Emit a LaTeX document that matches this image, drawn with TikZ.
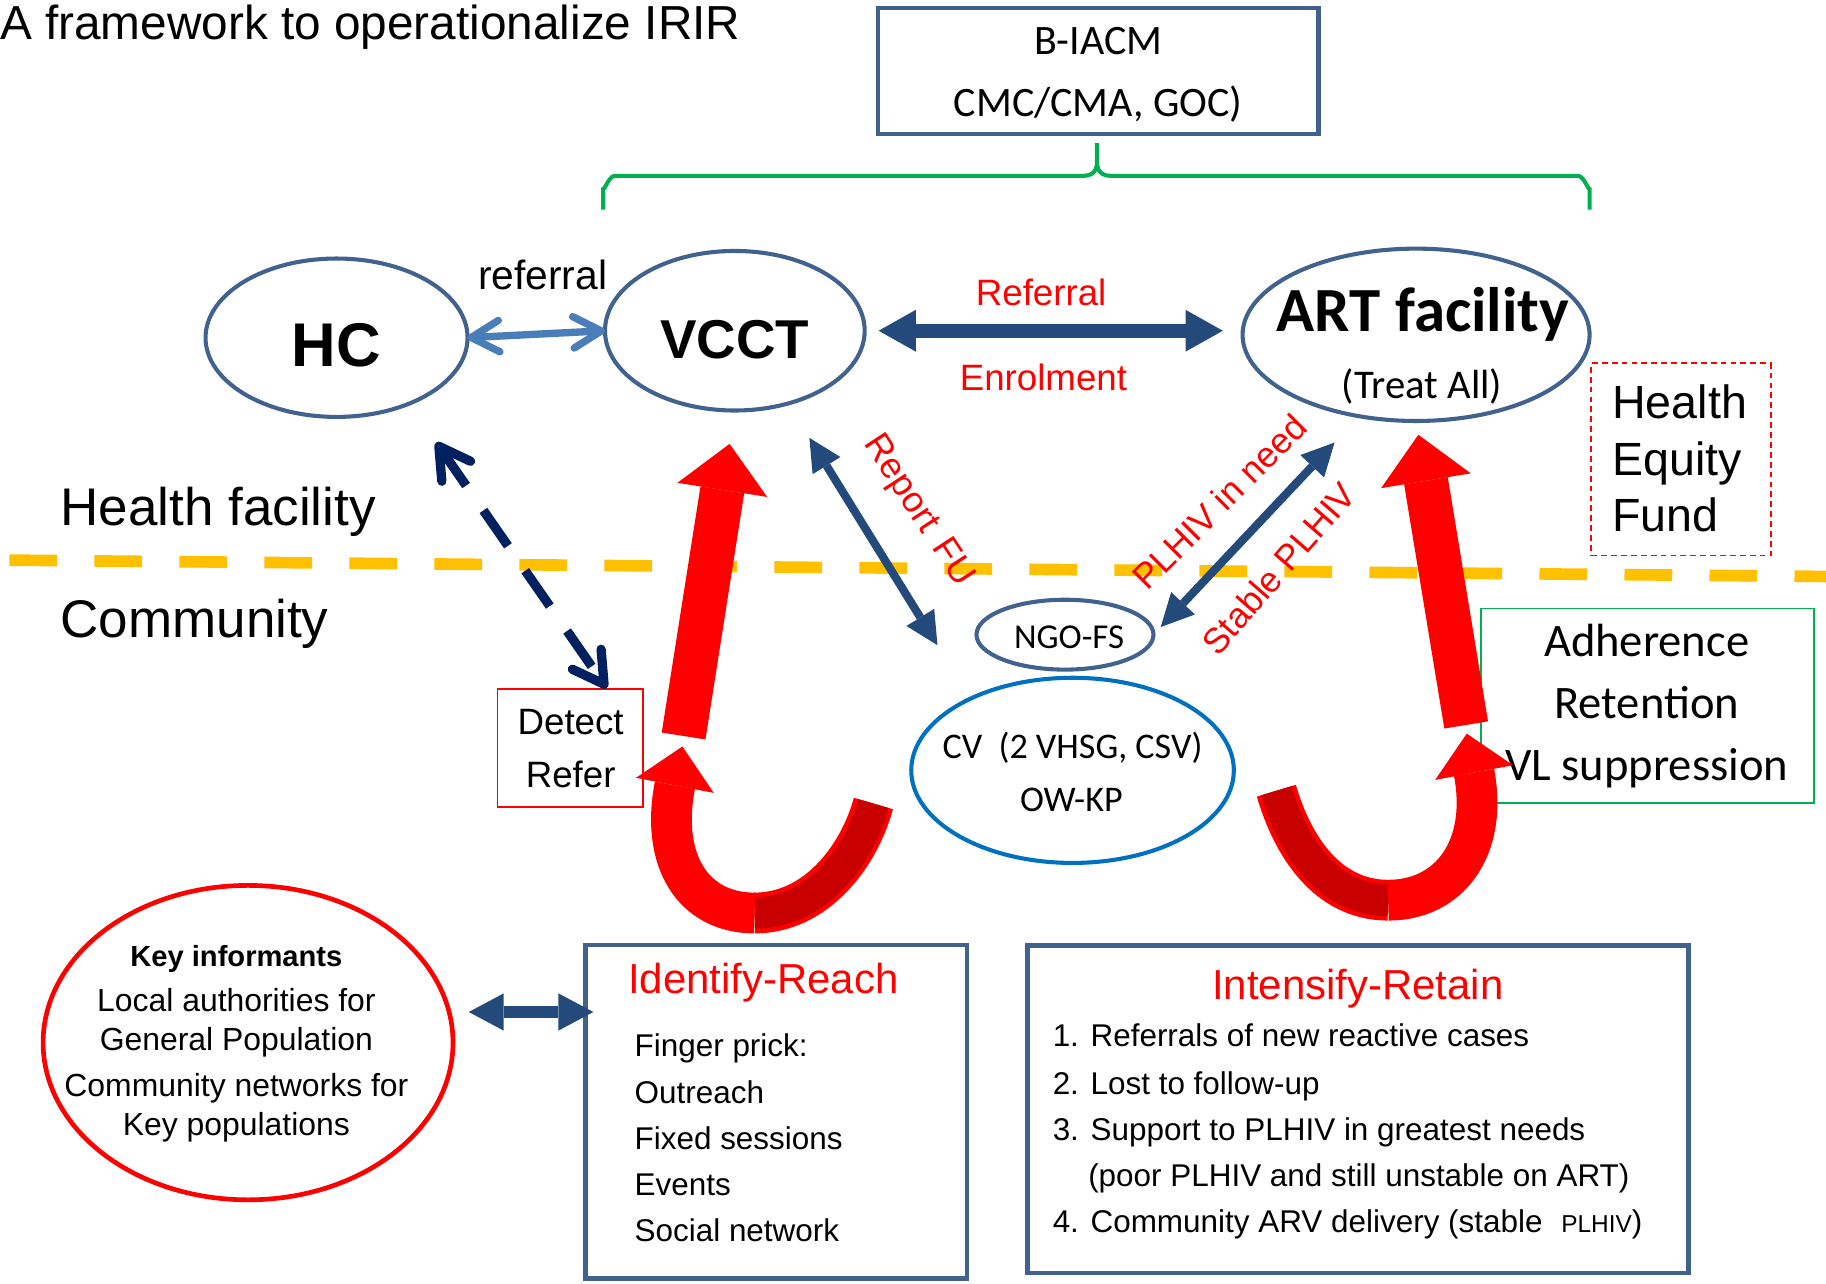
\documentclass[tikz,border=0pt]{standalone}
\usepackage{fontspec}
\setmainfont{Liberation Sans}
\newfontfamily\calfont{Carlito}
\usetikzlibrary{arrows.meta,shapes.geometric,calc}
\newcommand\fsz[1]{\fontsize{#1pt}{#1pt}\selectfont}
\definecolor{ellblue}{HTML}{41628F}
\definecolor{dblue}{HTML}{234A7B}
\definecolor{lblue}{HTML}{4A7EBB}
\definecolor{navy}{HTML}{002060}
\definecolor{cvblue}{HTML}{0070C0}
\definecolor{gr}{HTML}{00B050}
\definecolor{yel}{HTML}{FFC000}
\definecolor{dred}{HTML}{C80000}
\definecolor{rd}{HTML}{FF0000}
\begin{document}
\begin{tikzpicture}[x=1pt,y=-1pt,
  every node/.style={inner sep=0pt,outer sep=0pt},
  ell/.style={draw=ellblue,line width=3.5pt,ellipse},
  bluebox/.style={draw=ellblue,line width=4pt,rectangle},
  lbl/.style={anchor=base},
  lblw/.style={anchor=base west},
  bigred/.style={rd,line width=38pt,arrows={-Triangle[width=78pt,length=40pt,line width=0pt]}},
  curvred/.style={rd,line width=35pt,arrows={-Triangle[width=68pt,length=34pt,line width=0pt]}},
  darkrib/.style={dred,line width=27pt},
  ribedge/.style={rd,line width=35pt},
  dbluearrow/.style={dblue,line width=7pt,arrows={Triangle[width=28pt,length=28pt,line width=0pt]-Triangle[width=28pt,length=28pt,line width=0pt]}}
]
\useasboundingbox (0,0) rectangle (1568,1102);
\fill[white] (0,0) rectangle (1568,1102);

% title
\node[lblw,font=\fsz{41}] (title) at (0,34) {A framework to operationalize IRIR};

% B-IACM box
\node[bluebox,minimum width=378pt,minimum height=108pt] (biacm) at (943,61) {};
\node[lbl,font=\calfont\fsz{36}] (biacm1) at (943,47) {B-IACM};
\node[lbl,font=\calfont\fsz{36}] (biacm2) at (943,100) {CMC/CMA, GOC)};

% green brace
\draw[gr,line width=3.5pt] (518,180) -- (518,161) to[out=-90,in=180] (528,151) -- (930,151)
  .. controls (938,151) and (942,147) .. (942,139) -- (942,123);
\draw[gr,line width=3.5pt] (1365,180) -- (1365,161) to[out=-90,in=0] (1355,151) -- (954,151)
  .. controls (946,151) and (942,147) .. (942,139);

% yellow divider
\draw[yel,line width=10pt,dash pattern=on 41pt off 32pt] (8,481) -- (1568,495);

% labels of zones
\node[lblw,font=\fsz{45.5}] (hfac) at (52,451) {Health facility};
\node[lblw,font=\fsz{45.5}] (comm) at (52,547) {Community};

% top ellipses
\node[ell,minimum width=225pt,minimum height=136pt] (hc) at (289,290) {};
\node[lbl,font=\bfseries\fsz{53}] (hct) at (289,315) {HC};
\node[ell,minimum width=223pt,minimum height=137pt] (vcct) at (631,284) {};
\node[lbl,font=\bfseries\fsz{47}] (vcctt) at (631,308) {VCCT};
\node[ell,minimum width=298pt,minimum height=148pt] (art) at (1216,287.5) {};
\node[lbl,font=\calfont\bfseries\fsz{54}] (artt) at (1222,285) {ART facility};
\node[lbl,font=\calfont\fsz{35}] (artt2) at (1221,342) {(Treat All)};

% HC - VCCT
\draw[lblue,line width=6.3pt,arrows={Straight Barb[round,length=24pt,width=27pt]-Straight Barb[round,length=24pt,width=27pt]}] (hc.east) -- (vcct.west);
\node[lbl,font=\fsz{35}] (refl) at (466,249) {referral};

% VCCT - ART
\draw[dblue,line width=12pt,shorten <=12pt,shorten >=17pt,
  arrows={Triangle[width=36pt,length=32pt,line width=0pt]-Triangle[width=36pt,length=32pt,line width=0pt]}]
  (vcct.east) -- (vcct.east -| art.west);
\node[lbl,font=\fsz{31.5},text=rd] (refe) at (894,262) {Referral};
\node[lbl,font=\fsz{31.5},text=rd] (enrol) at (896,335) {Enrolment};

% Health Equity Fund
\node[draw=rd,line width=1.5pt,dash pattern=on 5pt off 3.5pt,minimum width=154pt,minimum height=165pt] (hef) at (1443.5,394.5) {};
\node[lblw,font=\fsz{40}] (hef1) at (1384.5,359) {Health};
\node[lblw,font=\fsz{40}] (hef2) at (1384.5,408) {Equity};
\node[lblw,font=\fsz{40}] (hef3) at (1384.5,456.5) {Fund};

% Adherence box
\node[draw=gr,line width=1.5pt,minimum width=286pt,minimum height=167pt] (adh) at (1414.5,606) {};
\node[lbl,font=\calfont\fsz{40}] (adh1) at (1414,564) {Adherence};
\node[lbl,font=\calfont\fsz{40}] (adh2) at (1414,617) {Retention};
\node[lbl,font=\calfont\fsz{40}] (adh3) at (1414,670) {VL suppression};

% NGO-FS and CV
\node[ell,minimum width=152pt,minimum height=60pt] (ngo) at (914.5,545) {};
\node[lbl,font=\calfont\fsz{30}] (ngot) at (918,557) {NGO-FS};
\node[draw=cvblue,line width=3.5pt,ellipse,minimum width=277pt,minimum height=159pt] (cv) at (921,661.5) {};
\node[lbl,font=\calfont\fsz{31}] (cvt1) at (921,651) {CV\ \ (2 VHSG, CSV)};
\node[lbl,font=\calfont\fsz{31}] (cvt2) at (920,697) {OW-KP};

% Detect box
\node[draw=rd,line width=1.5pt,minimum width=125pt,minimum height=101pt] (detect) at (489.7,642.3) {};
\node[lbl,font=\fsz{31.5}] (det1) at (490,630.5) {Detect};
\node[lbl,font=\fsz{31.5}] (det2) at (490,676.5) {Refer};

% dashed navy arrow HC - Detect
\coordinate (hcdn) at (374.6,380);
\draw[navy,line width=8pt,dash pattern=on 37pt off 26pt,
  arrows={Straight Barb[round,length=26pt,width=30pt]-Straight Barb[round,length=26pt,width=30pt]}]
  (hcdn) -- ($(detect.north)!0.5!(detect.north east)+(0,-1)$);

% Report FU arrow
\coordinate (rf1) at (695,376);
\coordinate (rf2) at (805,554);
\draw[dbluearrow] (rf1) -- (rf2);
\node[font=\fsz{31},text=rd,rotate=-56.7] (rfu) at (788,439) {Report\hspace{5pt} FU};

% PLHIV arrow
\coordinate (pl1) at (1146,380);
\draw[dbluearrow,shorten >=9pt] (pl1) -- (ngo.east);
\node[font=\fsz{30.5},text=rd,rotate=45] (plneed) at (1047,431) {PLHIV in need};
\node[font=\fsz{30.5},text=rd,rotate=49] (stab) at (1098,488) {Stable PLHIV};

% red straight arrows
\coordinate (ra1) at (587,632);
\draw[bigred,shorten >=29pt] (ra1) -- (vcct.south);
\coordinate (ra2) at (1259,622.5);
\draw[bigred,shorten >=12pt] (ra2) -- (art.south);

% curved red arrows
\coordinate (u1t) at (750,690);
\coordinate (u1b) at (648,784);
\coordinate (u1h) at (586,641);
\draw[ribedge] (u1t) .. controls (737,737) and (700,784) .. (u1b);
\draw[darkrib] (u1t) .. controls (737,737) and (700,784) .. (u1b);
\draw[curvred] (u1b) .. controls (595,784) and (567,739) .. (u1h);

\coordinate (u2t) at (1096,679);
\coordinate (u2b) at (1192,773);
\coordinate (u2h) at (1259.5,630);
\draw[ribedge] (u2t) .. controls (1110,727) and (1140,773) .. (u2b);
\draw[darkrib] (u2t) .. controls (1110,727) and (1140,773) .. (u2b);
\draw[curvred] (u2b) .. controls (1245,773) and (1278,728) .. (u2h);

% Key informants
\node[draw=rd,line width=4pt,ellipse,minimum width=352pt,minimum height=270pt] (key) at (213,895.3) {};
\node[lbl,font=\bfseries\fsz{25}] (k1) at (203,830) {Key informants};
\node[lbl,font=\fsz{27.4}] (k2) at (203,868.8) {Local authorities for};
\node[lbl,font=\fsz{27.4}] (k3) at (203,902.3) {General Population};
\node[lbl,font=\fsz{27.4}] (k4) at (203,941.7) {Community networks for};
\node[lbl,font=\fsz{27.4}] (k5) at (203,974.7) {Key populations};

% Identify-Reach
\node[bluebox,minimum width=327.5pt,minimum height=286.5pt] (ident) at (666.75,954.75) {};
\node[lblw,font=\fsz{36},text=rd] (idt) at (539.5,853) {Identify-Reach};
\node[lblw,font=\fsz{27}] (id1) at (545,907.5) {Finger prick:};
\node[lblw,font=\fsz{27}] (id2) at (545,947.5) {Outreach};
\node[lblw,font=\fsz{27}] (id3) at (545,987) {Fixed sessions};
\node[lblw,font=\fsz{27}] (id4) at (545,1026.5) {Events};
\node[lblw,font=\fsz{27}] (id5) at (545,1066) {Social network};

% Key - Identify arrow
\coordinate (ki1) at (402.5,869);
\coordinate (ki2) at (509.5,869);
\draw[dblue,line width=11pt,arrows={Triangle[width=32pt,length=30pt,line width=0pt]-Triangle[width=32pt,length=30pt,line width=0pt]}] (ki1) -- (ki2);

% Intensify-Retain
\node[bluebox,minimum width=567.5pt,minimum height=281pt] (intens) at (1166.25,952.5) {};
\node[lbl,font=\fsz{36},text=rd] (int0) at (1166,858) {Intensify-Retain};
\node[lblw,font=\fsz{27}] (int1) at (904,899) {1. Referrals of new reactive cases};
\node[lblw,font=\fsz{27}] (int2) at (904,939.5) {2. Lost to follow-up};
\node[lblw,font=\fsz{27}] (int3) at (904,979) {3. Support to PLHIV in greatest needs};
\node[lblw,font=\fsz{27}] (int3b) at (934.5,1018.5) {(poor PLHIV and still unstable on ART)};
\node[lblw,font=\fsz{27}] (int4) at (904,1058) {4. Community ARV delivery (stable\hspace{16pt}{\fsz{21}PLHIV})};
\end{tikzpicture}
\end{document}
